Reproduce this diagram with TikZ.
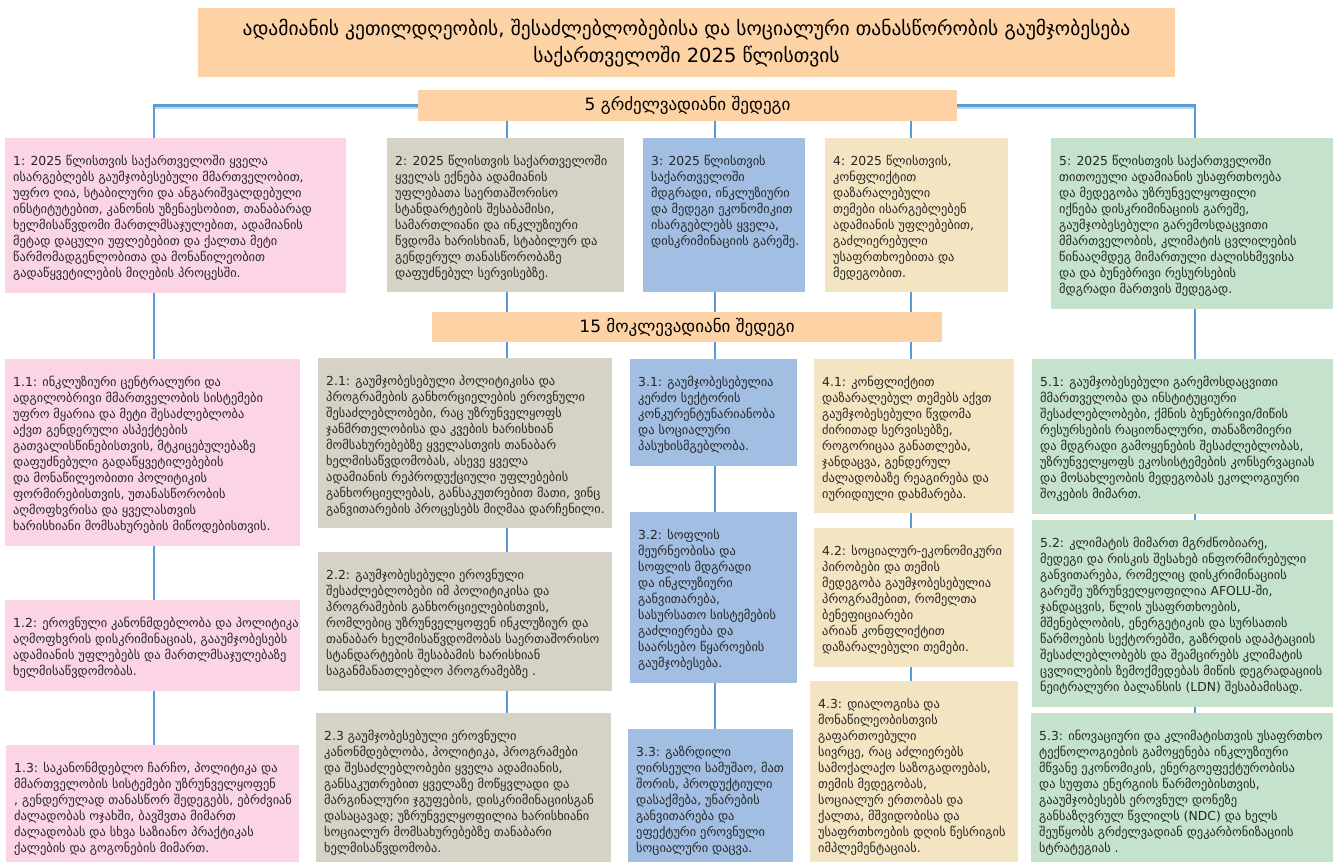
\documentclass[tikz,border=0pt]{standalone}
\usepackage{fontspec}
\setmainfont{DejaVu Sans}
\usetikzlibrary{calc}
\definecolor{pinkc}{RGB}{251,213,230}
\definecolor{grayc}{RGB}{214,211,198}
\definecolor{bluec}{RGB}{162,191,227}
\definecolor{beigec}{RGB}{243,228,194}
\definecolor{greenc}{RGB}{197,227,204}
\definecolor{peachc}{RGB}{253,211,166}
\definecolor{linec}{RGB}{91,155,213}
\definecolor{lightlc}{RGB}{189,215,238}
\definecolor{textc}{RGB}{38,38,38}
\newcommand\bodyfont{\fontsize{12.4}{16}\selectfont}
\pgfdeclarelayer{bg}
\pgfsetlayers{bg,main}
\tikzset{
  box/.style={anchor=north west, inner sep=0pt, outer sep=0pt},
  txt/.style={anchor=base west, inner sep=0pt, text=textc},
  conn/.style={draw=linec, line width=2.6pt},
  lightl/.style={draw=lightlc, line width=2pt},
}
\newcommand\bx[7]{%
  \pgfmathsetmacro\mybw{#4-#2}\pgfmathsetmacro\mybh{#5-#3}%
  \node[box, fill=#6, minimum width=\mybw pt, minimum height=\mybh pt] (#1) at (#2,#3) {};
  \node[txt] (#1t) at ([xshift=8pt,yshift=-27pt]#1.north west) {\parbox[t]{12cm}{\bodyfont\raggedright #7}};
}
\begin{document}
\begin{tikzpicture}[x=1pt,y=-1pt]
\useasboundingbox (0,0) rectangle (1333,865);
% title
\node[box, fill=peachc, minimum width=977pt, minimum height=69pt] (title) at (198,8) {};
\node[text=black, align=center, font=\fontsize{19.5}{27}\selectfont, inner sep=0pt] (titlet) at ([yshift=-1pt]title.center) {ადამიანის კეთილდღეობის, შესაძლებლობებისა და სოციალური თანასწორობის გაუმჯობესება\\საქართველოში 2025 წლისთვის};
% long-term header
\node[box, fill=peachc, minimum width=539pt, minimum height=31pt] (lt) at (418,90) {};
\node[text=black, font=\fontsize{17}{20}\selectfont, inner sep=0pt] (ltt) at (lt.center) {5 გრძელვადიანი შედეგი};
% short-term header
\node[box, fill=peachc, minimum width=510pt, minimum height=30pt] (st) at (432,312) {};
\node[text=black, font=\fontsize{17}{20}\selectfont, inner sep=0pt] (stt) at (st.center) {15 მოკლევადიანი შედეგი};

\coordinate (k1) at (154,105);
\coordinate (k2) at (507,105);
\coordinate (k3) at (715,105);
\coordinate (k4) at (911,105);
\coordinate (k5) at (1195,105);

% long-term outcomes
\bx{b1}{5}{138}{346}{293}{pinkc}{1: 2025 წლისთვის საქართველოში ყველა\\
ისარგებლებს გაუმჯობესებული მმართველობით,\\
უფრო ღია, სტაბილური და ანგარიშვალდებული\\
ინსტიტუტებით, კანონის უზენაესობით, თანაბარად\\
ხელმისაწვდომი მართლმსაჯულებით, ადამიანის\\
მეტად დაცული უფლებებით და ქალთა მეტი\\
წარმომადგენლობითა და მონაწილეობით\\
გადაწყვეტილების მიღების პროცესში.}
\bx{b2}{387}{138}{624}{292}{grayc}{2: 2025 წლისთვის საქართველოში\\
ყველას ექნება ადამიანის\\
უფლებათა საერთაშორისო\\
სტანდარტების შესაბამისი,\\
სამართლიანი და ინკლუზიური\\
წვდომა ხარისხიან, სტაბილურ და\\
გენდერულ თანასწორობაზე\\
დაფუძნებულ სერვისებზე.}
\bx{b3}{643}{138}{805}{292}{bluec}{3: 2025 წლისთვის\\
საქართველოში\\
მდგრადი, ინკლუზიური\\
და მედეგი ეკონომიკით\\
ისარგებლებს ყველა,\\
დისკრიმინაციის გარეშე.}
\bx{b4}{825}{138}{1008}{292}{beigec}{4: 2025 წლისთვის,\\
კონფლიქტით\\
დაზარალებული\\
თემები ისარგებლებენ\\
ადამიანის უფლებებით,\\
გაძლიერებული\\
უსაფრთხოებითა და\\
მედეგობით.}
\bx{b5}{1051}{138}{1333}{309}{greenc}{5: 2025 წლისთვის საქართველოში\\
თითოეული ადამიანის უსაფრთხოება\\
და მედეგობა უზრუნველყოფილი\\
იქნება დისკრიმინაციის გარეშე,\\
გაუმჯობესებული გარემოსდაცვითი\\
მმართველობის, კლიმატის ცვლილების\\
წინააღმდეგ მიმართული ძალისხმევისა\\
და და ბუნებრივი რესურსების\\
მდგრადი მართვის შედეგად.}

% row 1 short-term
\bx{b11}{5}{359}{300}{546}{pinkc}{1.1: ინკლუზიური ცენტრალური და\\
ადგილობრივი მმართველობის სისტემები\\
უფრო მყარია და მეტი შესაძლებლობა\\
აქვთ გენდერული ასპექტების\\
გათვალისწინებისთვის, მტკიცებულებაზე\\
დაფუძნებული გადაწყვეტილებების\\
და მონაწილეობითი პოლიტიკის\\
ფორმირებისთვის, უთანასწორობის\\
აღმოფხვრისა და ყველასთვის\\
ხარისხიანი მომსახურების მიწოდებისთვის.}
\bx{b21}{318}{358}{612}{528}{grayc}{2.1: გაუმჯობესებული პოლიტიკისა და\\
პროგრამების განხორციელების ეროვნული\\
შესაძლებლობები, რაც უზრუნველყოფს\\
ჯანმრთელობისა და კვების ხარისხიან\\
მომსახურებებზე ყველასთვის თანაბარ\\
ხელმისაწვდომობას, ასევე ყველა\\
ადამიანის რეპროდუქციული უფლებების\\
განხორციელებას, განსაკუთრებით მათი, ვინც\\
განვითარების პროცესებს მიღმაა დარჩენილი.}
\bx{b31}{630}{359}{797}{466}{bluec}{3.1: გაუმჯობესებულია\\
კერძო სექტორის\\
კონკურენტუნარიანობა\\
და სოციალური\\
პასუხისმგებლობა.}
\bx{b41}{814}{359}{1014}{513}{beigec}{4.1: კონფლიქტით\\
დაზარალებულ თემებს აქვთ\\
გაუმჯობესებული წვდომა\\
ძირითად სერვისებზე,\\
როგორიცაა განათლება,\\
ჯანდაცვა, გენდერულ\\
ძალადობაზე რეაგირება და\\
იურიდიული დახმარება.}
\bx{b51}{1032}{359}{1333}{514}{greenc}{5.1: გაუმჯობესებული გარემოსდაცვითი\\
მმართველობა და ინსტიტუციური\\
შესაძლებლობები, ქმნის ბუნებრივი/მიწის\\
რესურსების რაციონალური, თანაზომიერი\\
და მდგრადი გამოყენების შესაძლებლობას,\\
უზრუნველყოფს ეკოსისტემების კონსერვაციას\\
და მოსახლეობის მედეგობას ეკოლოგიური\\
შოკების მიმართ.}

% row 2
\bx{b12}{5}{600}{300}{691}{pinkc}{1.2: ეროვნული კანონმდებლობა და პოლიტიკა\\
აღმოფხვრის დისკრიმინაციას, გააუმჯობესებს\\
ადამიანის უფლებებს და მართლმსაჯულებაზე\\
ხელმისაწვდომობას.}
\bx{b22}{318}{552}{612}{691}{grayc}{2.2: გაუმჯობესებული ეროვნული\\
შესაძლებლობები იმ პოლიტიკისა და\\
პროგრამების განხორციელებისთვის,\\
რომლებიც უზრუნველყოფენ ინკლუზიურ და\\
თანაბარ ხელმისაწვდომობას საერთაშორისო\\
სტანდარტების შესაბამის ხარისხიან\\
საგანმანათლებლო პროგრამებზე .}
\bx{b32}{630}{512}{797}{683}{bluec}{3.2: სოფლის\\
მეურნეობისა და\\
სოფლის მდგრადი\\
და ინკლუზიური\\
განვითარება,\\
სასურსათო სისტემების\\
გაძლიერება და\\
საარსებო წყაროების\\
გაუმჯობესება.}
\bx{b42}{814}{528}{1014}{667}{beigec}{4.2: სოციალურ-ეკონომიკური\\
პირობები და თემის\\
მედეგობა გაუმჯობესებულია\\
პროგრამებით, რომელთა\\
ბენეფიციარები\\
არიან კონფლიქტით\\
დაზარალებული თემები.}
\bx{b52}{1032}{520}{1333}{707}{greenc}{5.2: კლიმატის მიმართ მგრძნობიარე,\\
მედეგი და რისკის შესახებ ინფორმირებული\\
განვითარება, რომელიც დისკრიმინაციის\\
გარეშე უზრუნველყოფილია AFOLU-ში,\\
ჯანდაცვის, წლის უსაფრთხოების,\\
მშენებლობის, ენერგეტიკის და სურსათის\\
წარმოების სექტორებში, გაზრდის ადაპტაციის\\
შესაძლებლობებს და შეამცირებს კლიმატის\\
ცვლილების ზემოქმედებას მიწის დეგრადაციის\\
ნეიტრალური ბალანსის (LDN) შესაბამისად.}

% row 3
\bx{b13}{6}{745}{299}{862}{pinkc}{1.3: საკანონმდებლო ჩარჩო, პოლიტიკა და\\
მმართველობის სისტემები უზრუნველყოფენ\\
, გენდერულად თანასწორ შედეგებს, ებრძვიან\\
ძალადობას ოჯახში, ბავშვთა მიმართ\\
ძალადობას და სხვა საზიანო პრაქტიკას\\
ქალების და გოგონების მიმართ.}
\bx{b23}{316}{713}{611}{862}{grayc}{2.3 გაუმჯობესებული ეროვნული\\
კანონმდებლობა, პოლიტიკა, პროგრამები\\
და შესაძლებლობები ყველა ადამიანის,\\
განსაკუთრებით ყველაზე მოწყვლადი და\\
მარგინალური ჯგუფების, დისკრიმინაციისგან\\
დასაცავად; უზრუნველყოფილია ხარისხიანი\\
სოციალურ მომსახურებებზე თანაბარი\\
ხელმისაწვდომობა.}
\bx{b33}{628}{729}{793}{862}{bluec}{3.3: გაზრდილი\\
ღირსეული სამუშაო, მათ\\
შორის, პროდუქტიული\\
დასაქმება, უნარების\\
განვითარება და\\
ეფექტური ეროვნული\\
სოციალური დაცვა.}
\bx{b43}{810}{681}{1018}{862}{beigec}{4.3: დიალოგისა და\\
მონაწილეობისთვის\\
გაფართოებული\\
სივრცე, რაც აძლიერებს\\
სამოქალაქო საზოგადოებას,\\
თემის მედეგობას,\\
სოციალურ ერთობას და\\
ქალთა, მშვიდობისა და\\
უსაფრთხოების დღის წესრიგის\\
იმპლემენტაციას.}
\bx{b53}{1031}{713}{1333}{862}{greenc}{5.3: ინოვაციური და კლიმატისთვის უსაფრთხო\\
ტექნოლოგიების გამოყენება ინკლუზიური\\
მწვანე ეკონომიკის, ენერგოეფექტურობისა\\
და სუფთა ენერგიის წარმოებისთვის,\\
გააუმჯობესებს ეროვნულ დონეზე\\
განსაზღვრულ წვლილს (NDC) და ხელს\\
შეუწყობს გრძელვადიან დეკარბონიზაციის\\
სტრატეგიას .}

\begin{pgfonlayer}{bg}
  \draw[lightl] ([yshift=-2.4pt]lt.west) -- ([yshift=-2.4pt]lt.west -| k1);
  \draw[lightl] ([yshift=-2.4pt]lt.east) -- ([yshift=-2.4pt]lt.east -| k5);
  \draw[conn] (lt.west) -| (b1.north -| k1);
  \draw[conn] (lt.east) -| (b5.north -| k5);
  \draw[conn] (lt.south -| k2) -- (b2.north -| k2);
  \draw[conn] (lt.south -| k3) -- (b3.north -| k3);
  \draw[conn] (lt.south -| k4) -- (b4.north -| k4);
  % column chains
  \draw[conn] (b1.south -| k1) -- (b11.north -| k1);
  \draw[conn] (b11.south -| k1) -- (b12.north -| k1);
  \draw[conn] (b12.south -| k1) -- (b13.north -| k1);
  \draw[conn] (b2.south -| k2) -- (b21.north -| k2);
  \draw[conn] (b21.south -| k2) -- (b22.north -| k2);
  \draw[conn] (b22.south -| k2) -- (b23.north -| k2);
  \draw[conn] (b3.south -| k3) -- (b31.north -| k3);
  \draw[conn] (b31.south -| k3) -- (b32.north -| k3);
  \draw[conn] (b32.south -| k3) -- (b33.north -| k3);
  \draw[conn] (b4.south -| k4) -- (b41.north -| k4);
  \draw[conn] (b41.south -| k4) -- (b42.north -| k4);
  \draw[conn] (b42.south -| k4) -- (b43.north -| k4);
  \draw[conn] (b5.south -| k5) -- (b51.north -| k5);
  \draw[conn] (b51.south -| k5) -- (b52.north -| k5);
  \draw[conn] (b52.south -| k5) -- (b53.north -| k5);
\end{pgfonlayer}
\end{tikzpicture}
\end{document}
